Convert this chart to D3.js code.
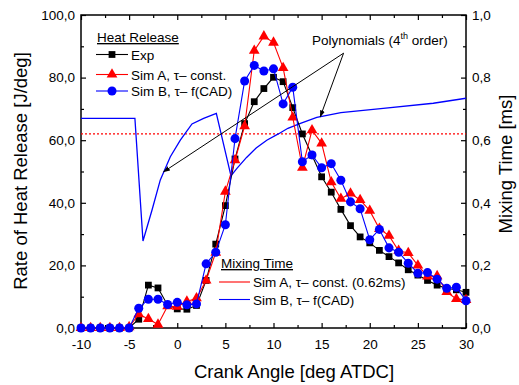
<!DOCTYPE html>
<html><head><meta charset="utf-8">
<script src="https://cdn.jsdelivr.net/npm/d3@7"></script>
<style>
body{margin:0;background:#fff;}
text{font-family:"Liberation Sans",Arial,sans-serif;}
</style></head>
<body><svg id="c" width="519" height="385"></svg>
<script>
const crankAngle = d3.range(-10, 31);
const expHR = [0,0,0,0,0,0,2.8,13.7,12.8,7.3,6.1,6.0,7.2,15.2,26.8,39.1,54.0,65.3,72.3,76.5,80.1,78.7,70.4,62.0,55.2,48.3,43.4,37.9,32.7,29.1,27.2,24.8,22.8,20.8,18.6,16.9,15.2,13.7,12.6,12.2,11.4];
const simAHR = [0,0,0,0,0,0.3,4.4,2.9,1.1,7.0,6.8,8.5,9.5,15.2,24.1,43.6,53.6,64.5,88.6,93.2,91.2,83.1,67.3,51.2,63.2,59.0,46.6,41.3,43.0,40.9,37.5,31.7,29.5,24.7,24.0,20.0,16.5,16.6,11.5,9.3,9.0];
const simBHR = [0,0,0,0,0,0,6.3,9.2,9.2,7.5,8.2,7.4,7.7,20.5,24.2,33.0,60.5,78.9,83.9,82.1,82.8,71.6,76.9,53.1,55.3,51.2,52.5,47.2,40.3,38.1,28.2,31.5,25.6,24.2,20.7,17.5,17.7,15.6,12.7,13.0,8.7];
const mixA = [[-10,0.62],[30,0.62]];
const mixBx = [-10,-4.4,-3.56,-2.62,-1.76,-0.72,0.32,1.53,2.74,4.06,5.58,6.2,7.2,8.2,9.3,10.5,11.5,12.8,14.5,17,21.4,26.6,30];
const mixBy = [0.67,0.67,0.278,0.377,0.473,0.547,0.60,0.652,0.67,0.686,0.486,0.51,0.545,0.575,0.60,0.62,0.638,0.654,0.673,0.688,0.702,0.718,0.734];
const xTicks = [-10,-5,0,5,10,15,20,25,30];
const yTicks = [0,20,40,60,80,100];
const yRTicks = [0,0.2,0.4,0.6,0.8,1.0];

const svg = d3.select("#c");
const L=81,R=466,T=15,B=328;
const x = d3.scaleLinear().domain([-10,30]).range([L,R]);
const y = d3.scaleLinear().domain([0,100]).range([B,T]);
const yR = d3.scaleLinear().domain([0,1]).range([B,T]);
const fmt1 = d => d3.format(".1f")(d).replace(".",",");

function styleAxis(g){ g.select(".domain").remove(); g.selectAll("line").attr("stroke","#000").attr("stroke-width",1.2); g.selectAll("text").attr("font-size",13.5).attr("fill","#000").attr("font-family","Liberation Sans, Arial, sans-serif"); }

const gx = svg.append("g").attr("transform",`translate(0,${B})`).call(d3.axisBottom(x).tickValues(xTicks).tickSizeInner(-5).tickSizeOuter(0).tickPadding(11).tickFormat(d=>d)); styleAxis(gx);
const gxm = svg.append("g").attr("transform",`translate(0,${B})`).call(d3.axisBottom(x).tickValues(d3.range(-7.5,30,5)).tickSizeInner(-3).tickSizeOuter(0).tickFormat("")); styleAxis(gxm);
const gt = svg.append("g").attr("transform",`translate(0,${T})`).call(d3.axisTop(x).tickValues(xTicks).tickSizeInner(-5).tickSizeOuter(0).tickFormat("")); styleAxis(gt);
const gtm = svg.append("g").attr("transform",`translate(0,${T})`).call(d3.axisTop(x).tickValues(d3.range(-7.5,30,5)).tickSizeInner(-3).tickSizeOuter(0).tickFormat("")); styleAxis(gtm);
const gy = svg.append("g").attr("transform",`translate(${L},0)`).call(d3.axisLeft(y).tickValues(yTicks).tickSizeInner(-5).tickSizeOuter(0).tickPadding(6).tickFormat(fmt1)); styleAxis(gy);
const gym = svg.append("g").attr("transform",`translate(${L},0)`).call(d3.axisLeft(y).tickValues(d3.range(10,100,20)).tickSizeInner(-3).tickSizeOuter(0).tickFormat("")); styleAxis(gym);
const gr = svg.append("g").attr("transform",`translate(${R},0)`).call(d3.axisRight(yR).tickValues(yRTicks).tickSizeInner(-5).tickSizeOuter(0).tickPadding(6).tickFormat(fmt1)); styleAxis(gr);
const grm = svg.append("g").attr("transform",`translate(${R},0)`).call(d3.axisRight(yR).tickValues(d3.range(0.1,1,0.2)).tickSizeInner(-3).tickSizeOuter(0).tickFormat("")); styleAxis(grm);

svg.append("rect").attr("x",L).attr("y",T).attr("width",R-L).attr("height",B-T).attr("fill","none").attr("stroke","#000").attr("stroke-width",1.5);

svg.append("text").attr("x",294).attr("y",378).attr("text-anchor","middle").attr("font-size",18.5).text("Crank Angle [deg ATDC]");
svg.append("text").attr("transform","translate(27,171) rotate(-90)").attr("text-anchor","middle").attr("font-size",18.5).text("Rate of Heat Release [J/deg]");
svg.append("text").attr("transform","translate(512,164) rotate(-90)").attr("text-anchor","middle").attr("font-size",18.5).text("Mixing Time [ms]");

const lineR = d3.line().x(d=>x(d[0])).y(d=>yR(d[1]));
svg.append("path").attr("d",lineR(mixA)).attr("fill","none").attr("stroke","#ff0000").attr("stroke-width",1.3).attr("stroke-dasharray","2,2");
svg.append("path").attr("d",lineR(mixBx.map((v,i)=>[v,mixBy[i]]))).attr("fill","none").attr("stroke","#0000ff").attr("stroke-width",1.3);

const series = [
 {vals:expHR,color:"#000",sym:d3.symbolSquare,size:46},
 {vals:simAHR,color:"#ff0000",sym:d3.symbolTriangle,size:50},
 {vals:simBHR,color:"#0000ff",sym:d3.symbolCircle,size:64}
];
const lineL = d3.line().x((d,i)=>x(crankAngle[i])).y(d=>y(d));
series.forEach(s=>{
  svg.append("path").attr("d",lineL(s.vals)).attr("fill","none").attr("stroke",s.color).attr("stroke-width",1.1);
  svg.append("g").selectAll("path").data(s.vals).join("path")
    .attr("transform",(d,i)=>`translate(${x(crankAngle[i])},${y(d)})`)
    .attr("d",d3.symbol().type(s.sym).size(s.size)).attr("fill",s.color);
});

const defs = svg.append("defs");
defs.append("marker").attr("id","ah").attr("viewBox","0 0 10 10").attr("refX",9).attr("refY",5).attr("markerWidth",7).attr("markerHeight",7).attr("orient","auto")
  .append("path").attr("d","M0,1.5 L10,5 L0,8.5 z").attr("fill","#000");
const src=[17.28,87.8];
[[-1.42,49.9],[14.86,67.5]].forEach(t=>{
  svg.append("line").attr("x1",x(src[0])).attr("y1",y(src[1])).attr("x2",x(t[0])).attr("y2",y(t[1])).attr("stroke","#000").attr("stroke-width",1).attr("marker-end","url(#ah)");
});
const pt = svg.append("text").attr("x",312).attr("y",45).attr("font-size",13.5);
pt.append("tspan").text("Polynomials (4");
pt.append("tspan").attr("font-size",9).attr("dy",-6).text("th");
pt.append("tspan").attr("dy",6).text(" order)");

function legendRow(g,yy,color,sym,size,label,x0,x1,tx,withMarker){
  g.append("line").attr("x1",x0).attr("x2",x1).attr("y1",yy).attr("y2",yy).attr("stroke",color).attr("stroke-width",1.1);
  if(withMarker) g.append("path").attr("transform",`translate(${(x0+x1)/2},${yy})`).attr("d",d3.symbol().type(sym).size(size)).attr("fill",color);
  g.append("text").attr("x",tx).attr("y",yy+5).attr("font-size",13.5).text(label);
}
const lg = svg.append("g");
lg.append("text").attr("x",97).attr("y",42).attr("font-size",13.5).attr("text-decoration","underline").text("Heat Release");
legendRow(lg,54.5,"#000",d3.symbolSquare,46,"Exp",96,128,131,true);
legendRow(lg,74.5,"#ff0000",d3.symbolTriangle,50,"Sim A, \u03c4\u2013 const.",96,128,131,true);
legendRow(lg,91,"#0000ff",d3.symbolCircle,64,"Sim B, \u03c4\u2013 f(CAD)",96,128,131,true);
const lg2 = svg.append("g");
lg2.append("text").attr("x",221).attr("y",268).attr("font-size",13.5).attr("text-decoration","underline").text("Mixing Time");
legendRow(lg2,282,"#ff0000",null,0,"Sim A, \u03c4\u2013 const. (0.62ms)",219,250,253,false);
legendRow(lg2,299.5,"#0000ff",null,0,"Sim B, \u03c4\u2013 f(CAD)",219,250,253,false);
</script></body></html>
